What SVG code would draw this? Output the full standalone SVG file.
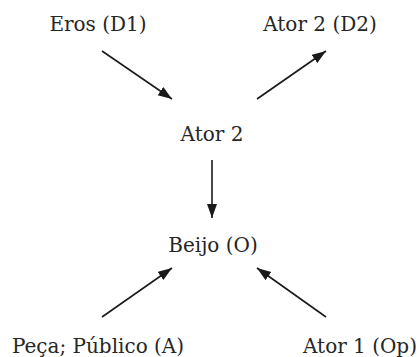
<svg xmlns="http://www.w3.org/2000/svg" width="418" height="357" viewBox="0 0 418 357">
  <style>
    .lbl { font-family: "DejaVu Serif", "Liberation Serif", serif; font-size: 20px; fill: #262626; text-anchor: middle; }
    .edge { stroke: #1a1a1a; stroke-width: 1.6; fill: none; marker-end: url(#head); }
  </style>
  <defs>
    <marker id="head" markerUnits="userSpaceOnUse" markerWidth="16" markerHeight="12" refX="14" refY="5" orient="auto">
      <path d="M0,0 L14,5 L0,10 Z" fill="#1a1a1a"/>
    </marker>
  </defs>
  <rect width="418" height="357" fill="#ffffff"/>

  <g id="connectors">
    <line class="edge" x1="102" y1="51" x2="172" y2="99"/>
    <line class="edge" x1="257" y1="99" x2="326" y2="51"/>
    <line class="edge" x1="212" y1="160" x2="212" y2="218"/>
    <line class="edge" x1="102" y1="317" x2="172" y2="268"/>
    <line class="edge" x1="326" y1="317" x2="257" y2="268"/>
  </g>

  <g id="eros-d1"><text class="lbl" x="98" y="31">Eros (D1)</text></g>
  <g id="ator2-d2"><text class="lbl" x="320" y="31">Ator 2 (D2)</text></g>
  <g id="ator2"><text class="lbl" x="212" y="141">Ator 2</text></g>
  <g id="beijo-o"><text class="lbl" x="213" y="252">Beijo (O)</text></g>
  <g id="peca-publico-a"><text class="lbl" x="98" y="353">Peça; Público (A)</text></g>
  <g id="ator1-op"><text class="lbl" x="360" y="353">Ator 1 (Op)</text></g>
</svg>
